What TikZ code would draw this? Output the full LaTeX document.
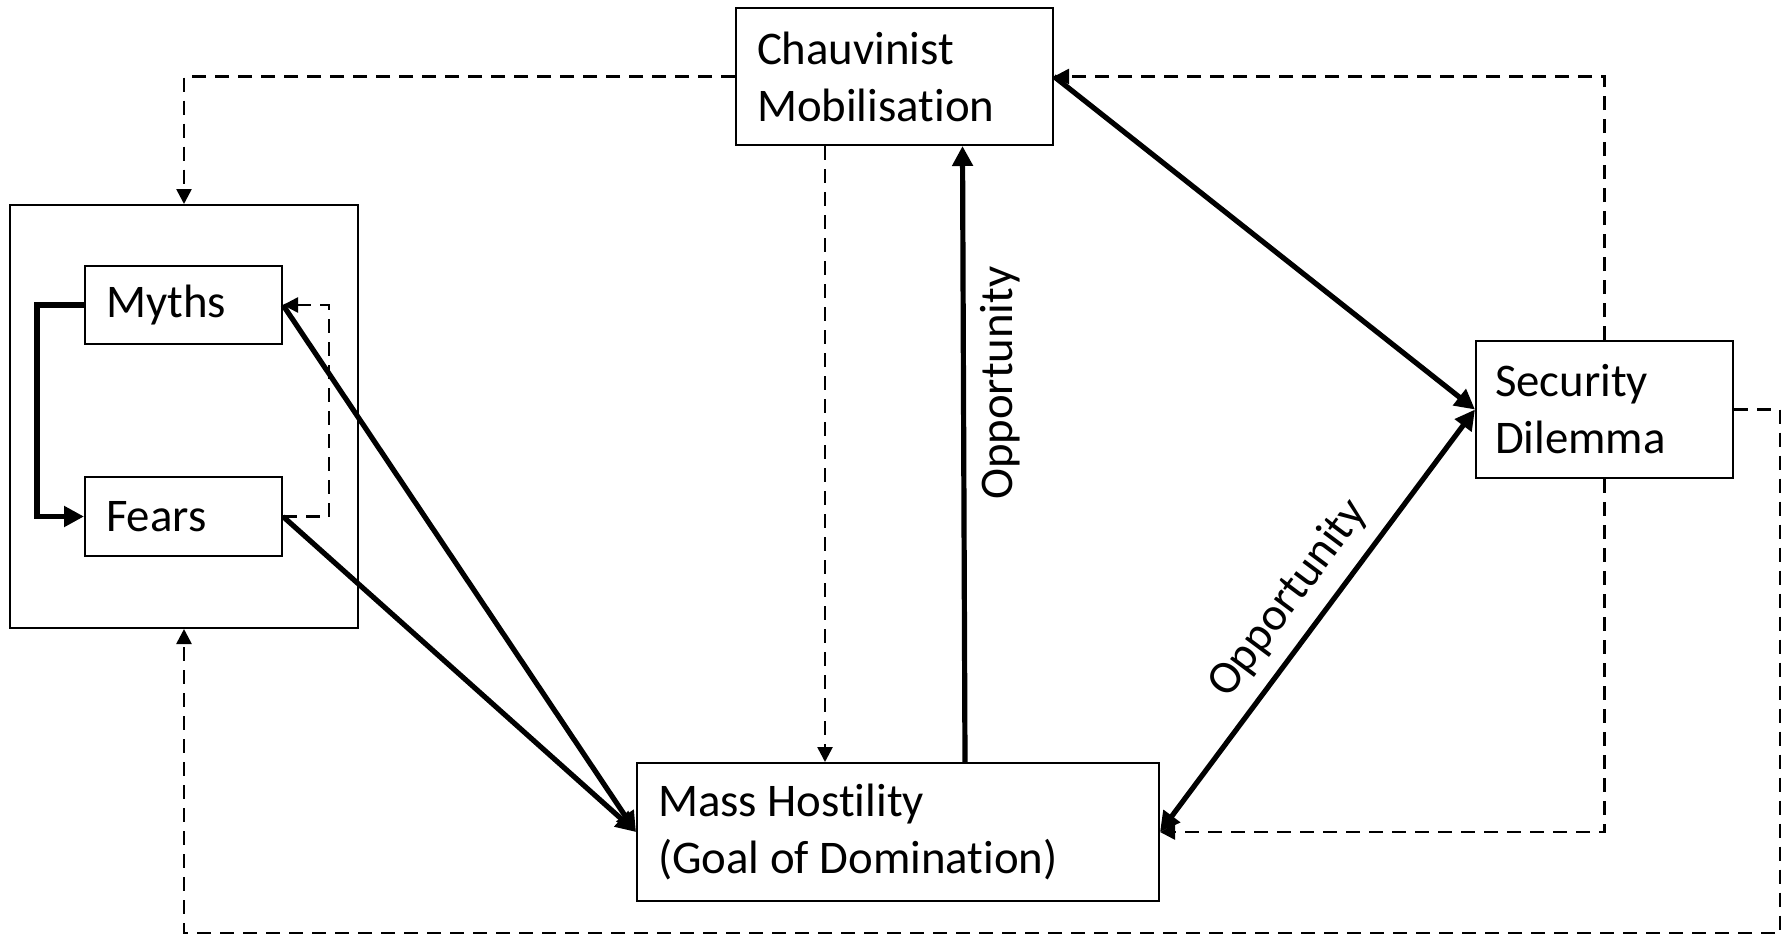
\documentclass[tikz,border=0pt]{standalone}
\usepackage{fontspec}
\setmainfont{Carlito}[Ligatures=NoCommon]
\usetikzlibrary{arrows.meta,calc}
\begin{document}
\begin{tikzpicture}[x=0.5pt,y=-0.5pt,
  txt/.style={font=\fontsize{23.4pt}{28.5pt}\selectfont},
  box/.style={draw, line width=1pt, inner xsep=10.5pt, inner ysep=0pt, align=flush left, txt},
  solidarrow/.style={line width=2.6pt, -{Triangle[length=10pt,width=10pt]}},
  bothsolid/.style={line width=2.6pt, {Triangle[length=10pt,width=10pt]}-{Triangle[length=10pt,width=10pt]}},
  dasharrow/.style={line width=1.3pt, dash pattern=on 7pt off 4.5pt, -{Triangle[length=7.5pt,width=7.5pt]}}]
\useasboundingbox (0,0) rectangle (1789,937);
% nodes
\node[draw, line width=1pt, minimum width=174pt, minimum height=211.5pt, inner sep=0pt] (outer) at (184,416.5) {};
\node[box, text width=77.5pt, minimum height=39pt] (myths) at (183.5,305) {Myths};
\node[box, text width=77.5pt, minimum height=39.5pt] (fears) at (183.5,516.5) {Fears};
\node[box, text width=137.5pt, minimum height=68.5pt] (chauv) at (894.5,76.5) {Chauvinist\\Mobilisation};
\node[box, inner xsep=9.5pt, text width=109.5pt, minimum height=68.5pt] (sec) at (1604.5,409.5) {Security\\Dilemma};
\node[box, text width=240pt, minimum height=69pt] (mass) at (898,832) {Mass Hostility\\(Goal of Domination)};
% helper coordinates
\coordinate (c3) at (37,416);
\coordinate (c2) at (329,416);
\coordinate (c1) at (1780,933);
\coordinate (dx) at (825,0);
% connectors inside the outer box
\draw[solidarrow] (myths.west) -| (c3) |- (fears.west);
\draw[dasharrow] (fears.east) -| (c2) |- (myths.east);
% solid arrows into mass hostility
\draw[solidarrow] (myths.east) -- (mass.west);
\draw[solidarrow] (fears.east) -- (mass.west);
% mass -> chauvinist
\draw[solidarrow] ([xshift=33.5pt]mass.north) -- ([xshift=34pt]chauv.south)
  node[pos=0.615, rotate=90, anchor=north, inner sep=7pt, txt] {Opportunity};
% chauvinist -> security
\draw[solidarrow] (chauv.east) -- (sec.west);
% mass <-> security
\draw[bothsolid] (mass.east) -- (sec.west)
  node[midway, sloped, above, inner sep=7pt, txt] {Opportunity};
% dashed connectors
\draw[dasharrow] (chauv.west) -| (outer.north);
\draw[dasharrow] (chauv.south -| dx) -- (mass.north -| dx);
\draw[dasharrow] (sec.north) |- (chauv.east);
\draw[dasharrow] (sec.south) |- (mass.east);
\draw[dasharrow] (sec.east) -| (c1) -| (outer.south);
\end{tikzpicture}
\end{document}
